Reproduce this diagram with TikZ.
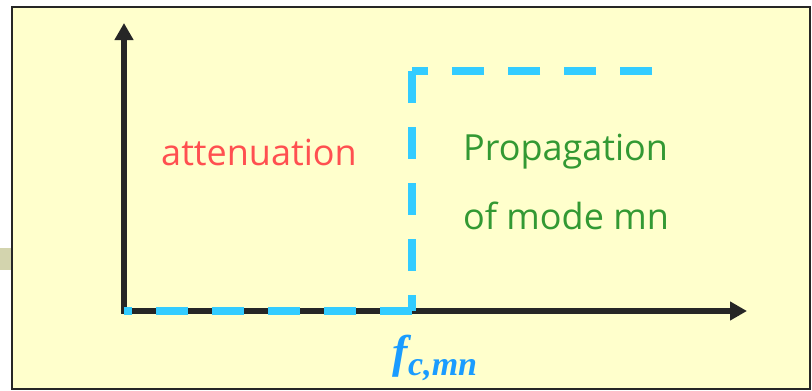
\documentclass[tikz,border=0pt]{standalone}
\usepackage{fontspec}
\setmainfont{Open Sans}
\newfontfamily\timesfont{Liberation Serif}
\usetikzlibrary{arrows.meta}
\definecolor{PaleYellow}{HTML}{FFFFCC}
\definecolor{AxisBlack}{HTML}{262626}
\definecolor{TabGray}{HTML}{D3D4AE}
\definecolor{CutBlue}{HTML}{33CCFF}
\definecolor{AttRed}{HTML}{FF5050}
\definecolor{PropGreen}{HTML}{339933}
\definecolor{LabelBlue}{HTML}{1A9CFF}

\begin{document}
\begin{tikzpicture}[x=1pt,y=-1pt,
    axis/.style={AxisBlack,line width=6pt,
      {Triangle[length=17pt,width=18pt]}-{Triangle[length=17pt,width=18pt]}},
    cutoff/.style={CutBlue,line width=8pt,dash pattern=on 32pt off 24pt},
    every node/.style={inner sep=0pt}]
  \useasboundingbox (0,0) rectangle (812,391);
  \fill[TabGray] (0,248) rectangle (11,270);
  \draw[AxisBlack,line width=2pt,fill=PaleYellow] (12,7) rectangle (810,389);

  \coordinate (ytip) at (124,23);
  \coordinate (origin) at (124,311);
  \coordinate (xtip) at (747,311);
  \coordinate (fc) at (412,311);
  \coordinate (fctop) at (412,71);
  \coordinate (cutend) at (652,71);

  \draw[axis] (ytip) -- (origin) -- (xtip);

  % cut-off step
  \draw[cutoff] (cutend) -- (fctop);
  \draw[cutoff] (fctop) -- (fc);
  \draw[cutoff] (fc) -- (origin);

  \node[AttRed,font=\fontsize{36}{40}\selectfont] (att) at (259,152) {attenuation};
  \node[PropGreen,font=\fontsize{36}{40}\selectfont,anchor=west] (prop) at (463,152) {Propagation};
  \node[PropGreen,font=\fontsize{36}{40}\selectfont,anchor=west] (mode) at (463,216) {of mode mn};
  \node[LabelBlue,font=\timesfont\bfseries\itshape\fontsize{46}{46}\selectfont] (fclabel) at (435,358)
    {f\raisebox{-8pt}{\fontsize{34}{34}\selectfont c,mn}};
\end{tikzpicture}
\end{document}
